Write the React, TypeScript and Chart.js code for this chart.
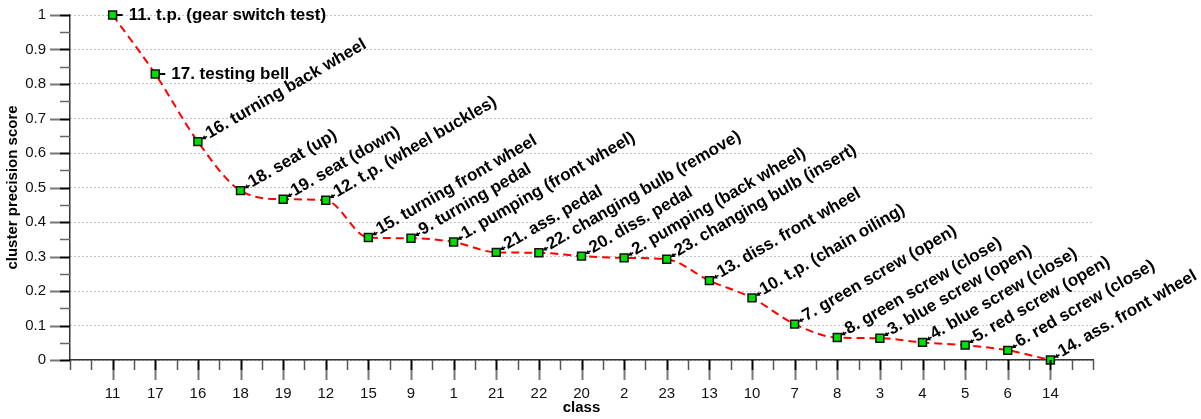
import { useEffect, useRef } from 'react';
import { Chart, registerables } from 'chart.js';

Chart.register(...registerables);

// Classes, ordered by decreasing cluster precision score
const classes = ['11', '17', '16', '18', '19', '12', '15', '9', '1', '21', '22', '20', '2', '23', '13', '10', '7', '8', '3', '4', '5', '6', '14'];

const scores = [1.0, 0.829, 0.633, 0.491, 0.466, 0.463, 0.355, 0.353, 0.342, 0.312, 0.311, 0.301, 0.296, 0.292, 0.23, 0.18, 0.104, 0.065, 0.063, 0.051, 0.043, 0.028, 0.0];

const activityNames = [
  '11. t.p. (gear switch test)',
  '17. testing bell',
  '16. turning back wheel',
  '18. seat (up)',
  '19. seat (down)',
  '12. t.p. (wheel buckles)',
  '15. turning front wheel',
  '9. turning pedal',
  '1. pumping (front wheel)',
  '21. ass. pedal',
  '22. changing bulb (remove)',
  '20. diss. pedal',
  '2. pumping (back wheel)',
  '23. changing bulb (insert)',
  '13. diss. front wheel',
  '10. t.p. (chain oiling)',
  '7. green screw (open)',
  '8. green screw (close)',
  '3. blue screw (open)',
  '4. blue screw (close)',
  '5. red screw (open)',
  '6. red screw (close)',
  '14. ass. front wheel',
];

// Number of leading labels written horizontally; the rest are slanted
const horizontalLabelCount = 2;

const FONT = '"Liberation Sans", Arial, Helvetica, sans-serif';

function tick(ctx: CanvasRenderingContext2D, x1: number, y1: number, x2: number, y2: number, color: string, width: number) {
  ctx.strokeStyle = color;
  ctx.lineWidth = width;
  ctx.beginPath();
  ctx.moveTo(x1, y1);
  ctx.lineTo(x2, y2);
  ctx.stroke();
}

// Draws the outward tick marks of both axes (major + minor)
const axisTicksPlugin = {
  id: 'axisTicks',
  afterDraw(chart: any) {
    const { ctx, chartArea, scales } = chart;
    const xs = scales.x;
    const ys = scales.y;
    ctx.save();
    ctx.lineCap = 'butt';
    // x axis: major ticks at each class, minor ticks half-way between
    const y0 = chartArea.bottom;
    for (let k = -2; k <= classes.length * 2; k++) {
      const v = k / 2;
      const px = Math.round(xs.getPixelForValue(v)) + 0.5;
      const major = k % 2 === 0 && v >= 0 && v <= classes.length - 1;
      if (major) {
        tick(ctx, px, y0, px, y0 + 10, '#000', 2);
        tick(ctx, px, y0 + 10, px, y0 + 20, '#777', 2);
      } else {
        tick(ctx, px, y0, px, y0 + 10, '#555', 1.5);
      }
    }
    // y axis: major ticks every 0.1, minor every 0.05
    const x0 = chartArea.left;
    for (let k = 0; k <= 20; k++) {
      const py = Math.round(ys.getPixelForValue(k / 20)) + 0.5;
      if (k % 2 === 0) {
        tick(ctx, x0 - 10, py, x0, py, '#000', 2);
        tick(ctx, x0 - 20, py, x0 - 10, py, '#777', 2);
      } else {
        tick(ctx, x0 - 10, py, x0, py, '#666', 1.5);
      }
    }
    ctx.restore();
  },
};

// Writes the activity name next to each point, with a small pointer arrow
const pointLabelsPlugin = {
  id: 'pointLabels',
  afterDatasetsDraw(chart: any) {
    const { ctx } = chart;
    const meta = chart.getDatasetMeta(0);
    ctx.save();
    ctx.font = `bold 17px ${FONT}`;
    ctx.fillStyle = '#000';
    ctx.strokeStyle = '#000';
    ctx.textAlign = 'left';
    ctx.textBaseline = 'middle';
    meta.data.forEach((pt: any, i: number) => {
      const horizontal = i < horizontalLabelCount;
      ctx.save();
      ctx.translate(pt.x, pt.y);
      ctx.rotate(horizontal ? 0 : -Math.PI / 6);
      if (horizontal) {
        ctx.lineWidth = 2;
        ctx.beginPath();
        ctx.moveTo(4, 0);
        ctx.lineTo(10, 0);
        ctx.stroke();
        ctx.fillText(activityNames[i], 16, 0);
      } else {
        ctx.lineWidth = 1.5;
        ctx.beginPath();
        ctx.moveTo(10.5, 0);
        ctx.lineTo(7, 0);
        ctx.stroke();
        ctx.beginPath();
        ctx.moveTo(4.5, 0);
        ctx.lineTo(8.5, -2.3);
        ctx.lineTo(8.5, 2.3);
        ctx.closePath();
        ctx.fill();
        ctx.fillText(activityNames[i], 11.5, -1.5);
      }
      ctx.restore();
    });
    ctx.restore();
  },
};

export default function App() {
  const canvasRef = useRef<HTMLCanvasElement | null>(null);

  useEffect(() => {
    const canvas = canvasRef.current;
    if (!canvas) return;
    const points = scores.map((s, i) => ({ x: i, y: s }));

    const chart = new Chart(canvas, {
      type: 'line',
      data: {
        datasets: [
          {
            data: points,
            borderColor: '#ff0000',
            borderWidth: 2,
            borderDash: [8, 5],
            cubicInterpolationMode: 'monotone',
            pointStyle: 'rect',
            pointRadius: 5.6,
            pointBackgroundColor: '#00dd00',
            pointBorderColor: '#111',
            pointBorderWidth: 1.5,
            clip: false,
          } as any,
        ],
      },
      options: {
        responsive: false,
        animation: false,
        devicePixelRatio: 1,
        layout: { padding: { left: 0, top: 15, right: 108, bottom: 0 } },
        plugins: {
          legend: { display: false },
          tooltip: { enabled: false },
        },
        scales: {
          x: {
            type: 'linear',
            min: -1,
            max: classes.length,
            afterFit(scale: any) {
              scale.height = 59;
              scale.paddingLeft = 0;
              scale.paddingRight = 0;
            },
            afterBuildTicks(scale: any) {
              const t = [];
              for (let v = -1; v <= classes.length; v++) t.push({ value: v });
              scale.ticks = t;
            },
            ticks: {
              autoSkip: false,
              maxRotation: 0,
              padding: 17,
              color: '#111',
              font: { family: FONT, size: 15 },
              callback: (v: any) => classes[Number(v)] ?? '',
            },
            grid: { display: false },
            border: { display: true, color: '#333', width: 1.5 },
            title: {
              display: true,
              text: 'class',
              color: '#000',
              font: { family: FONT, size: 15, weight: 'bold' },
              padding: { top: 0, bottom: 2 },
            },
          },
          y: {
            type: 'linear',
            min: 0,
            max: 1,
            afterFit(scale: any) {
              scale.width = 70;
              scale.paddingTop = 0;
              scale.paddingBottom = 0;
            },
            ticks: {
              stepSize: 0.1,
              padding: 24,
              color: '#111',
              font: { family: FONT, size: 15 },
              callback: (v: any) => String(Math.round(Number(v) * 10) / 10),
            },
            grid: {
              display: true,
              drawTicks: false,
              color: '#888',
              lineWidth: 1,
            },
            border: { display: true, color: '#333', width: 1.5, dash: [1, 3] },
            title: {
              display: true,
              text: 'cluster precision score',
              color: '#000',
              font: { family: FONT, size: 15, weight: 'bold' },
              padding: { top: 4, bottom: 0 },
            },
          },
        },
      } as any,
      plugins: [axisTicksPlugin, pointLabelsPlugin],
    });

    return () => chart.destroy();
  }, []);

  return (
    <div style={{ position: 'fixed', left: 0, top: 0, width: 1201, height: 419, background: '#fff' }}>
      <canvas ref={canvasRef} width={1201} height={419} style={{ display: 'block' }} />
    </div>
  );
}
